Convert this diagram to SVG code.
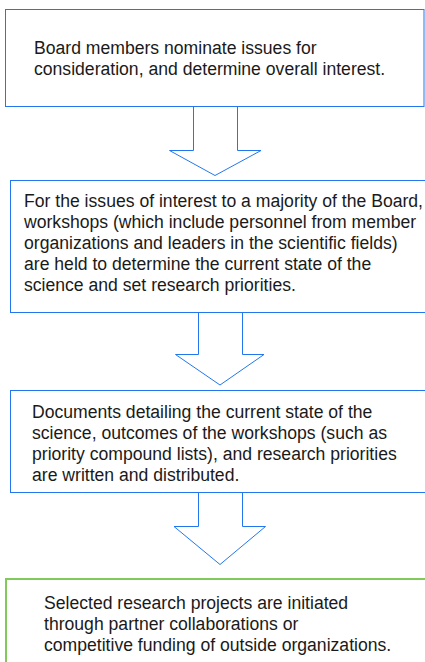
<svg xmlns="http://www.w3.org/2000/svg" width="425" height="662" viewBox="0 0 425 662">
<style>
.box{fill:#fff;stroke:#2277ee;stroke-width:1}
.arr{fill:#fff;stroke:#2277ee;stroke-width:1}
.g{fill:#fff;stroke:#80c95a;stroke-width:2}
text{font-family:"Liberation Sans",Arial,sans-serif;font-size:17.6px;fill:#1a1a1a}
</style>
<rect width="425" height="662" fill="#fff"/>
<g id="connectors">
<path class="arr" d="M193.5,106.5 V150.5 H169.5 L215,175.5 L261,150.5 H237.5 V106.5"/>
<path class="arr" d="M198.5,312.5 V354.5 H175.5 L220,385 L264,354.5 H242.5 V312.5"/>
<path class="arr" d="M198.5,492.5 V526.5 H174 L220,564.5 L265.5,526.5 H242.5 V492.5"/>
</g>
<g id="node1">
<rect class="box" x="5.5" y="9.5" width="418.5" height="97"/>
<text x="34" y="53.5">Board members nominate issues for</text>
<text x="34" y="74.5">consideration, and determine overall interest.</text>
</g>
<g id="node2">
<rect class="box" x="10.5" y="180.5" width="420" height="132"/>
<text x="24" y="206.5">For the issues of interest to a majority of the Board,</text>
<text x="24" y="227.5">workshops (which include personnel from member</text>
<text x="24" y="248.5">organizations and leaders in the scientific fields)</text>
<text x="24" y="269.5">are held to determine the current state of the</text>
<text x="24" y="290.5">science and set research priorities.</text>
</g>
<g id="node3">
<rect class="box" x="10.5" y="390.5" width="420" height="102"/>
<text x="32" y="418">Documents detailing the current state of the</text>
<text x="32" y="439">science, outcomes of the workshops (such as</text>
<text x="32" y="460">priority compound lists), and research priorities</text>
<text x="32" y="481">are written and distributed.</text>
</g>
<g id="node4">
<rect class="g" x="6" y="579" width="425" height="100"/>
<text x="44" y="608.5">Selected research projects are initiated</text>
<text x="44" y="629.5">through partner collaborations or</text>
<text x="44" y="650.5">competitive funding of outside organizations.</text>
</g>
</svg>
